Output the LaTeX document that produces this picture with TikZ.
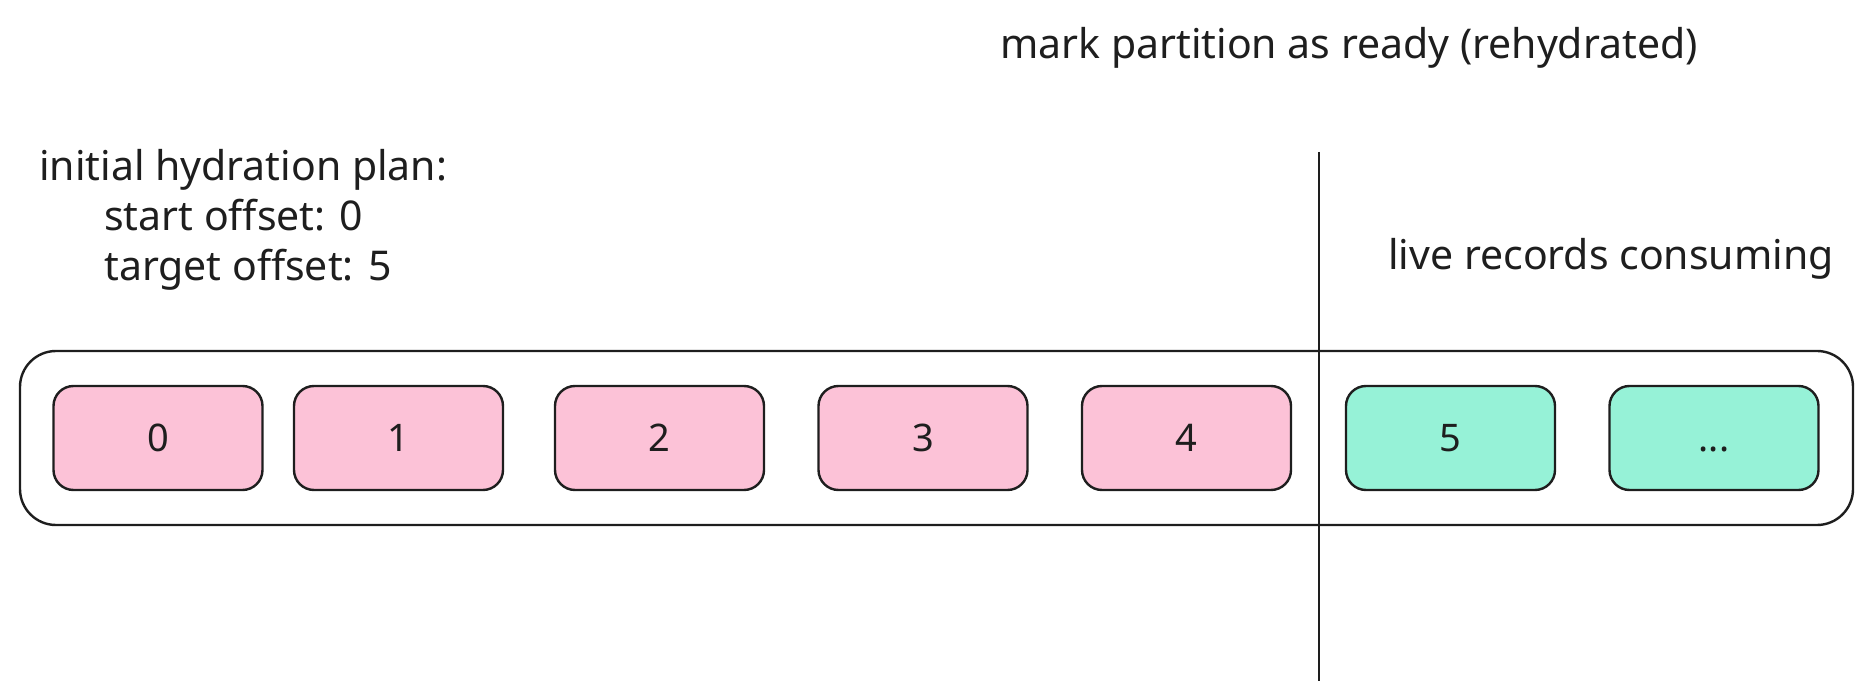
\documentclass[tikz,border=0pt]{standalone}
\usepackage{fontspec}
\setmainfont{Noto Sans}
\definecolor{recpink}{HTML}{FCC2D7}
\definecolor{recteal}{HTML}{96F2D7}
\definecolor{ink}{HTML}{1E1E1E}
\tikzset{
  rec/.style={draw=ink, line width=2.4pt, rounded corners=20pt, minimum width=209pt, minimum height=104pt, inner sep=0pt, text=ink, font=\fontsize{38}{44}\selectfont},
  oldrec/.style={rec, fill=recpink},
  liverec/.style={rec, fill=recteal},
  note/.style={text=ink, inner sep=0pt, font=\fontsize{41}{50}\selectfont}
}
\begin{document}
\begin{tikzpicture}[x=1pt,y=-1pt]
\useasboundingbox (0,0) rectangle (1872,700);

% Partition log
\node[draw=ink, line width=2.4pt, rounded corners=36pt, minimum width=1833pt, minimum height=174pt] (log) at (936.5,438) {};

% Records
\node[oldrec] (r0) at (158,438) {0};
\node[oldrec] (r1) at (398.5,438) {1};
\node[oldrec] (r2) at (659.5,438) {2};
\node[oldrec] (r3) at (923,438) {3};
\node[oldrec] (r4) at (1186.5,438) {4};
\node[liverec] (r5) at (1450.5,438) {5};
\node[liverec] (r6) at (1714,438) {\vphantom{0}...};

% Ready marker
\coordinate (readytop) at (1319,152);
\coordinate (readybot) at (1319,681);
\draw[draw=ink, line width=1.4pt] (readytop) -- (readybot);

% Notes
\node[note] (ready) at (1349,48) {mark partition as ready (rehydrated)};
\node[note, anchor=west, align=left] (plan) at (39,220) {initial hydration plan:\\\hspace*{65pt}start offset: 0\\\hspace*{65pt}target offset: 5};
\node[note] (live) at (1611,259) {live records consuming};

\end{tikzpicture}
\end{document}
